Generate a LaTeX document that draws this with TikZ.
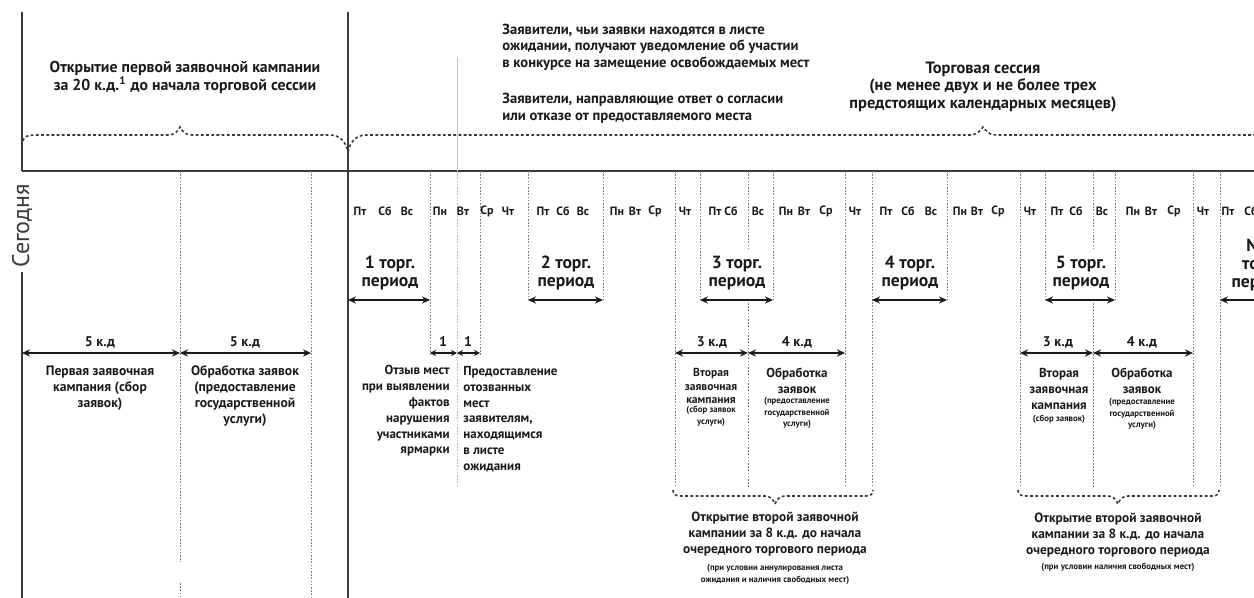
\documentclass[tikz,border=0pt]{standalone}
\usepackage{fontspec}
\setmainfont{PT Sans}
\usetikzlibrary{arrows.meta}
\definecolor{ink}{HTML}{1A1A1A}
\definecolor{lin}{HTML}{3A3A3A}
\definecolor{dotc}{HTML}{808080}
\begin{document}
\begin{tikzpicture}[x=0.5pt,y=-0.5pt,
  toptxt/.style={font=\bfseries\fontsize{7.9}{9}\selectfont, text=ink, align=center, inner sep=0pt},
  pertxt/.style={font=\bfseries\fontsize{8.8}{8.8}\selectfont, text=ink, align=center, inner sep=0pt},
  daytxt/.style={font=\bfseries\fontsize{6}{6}\selectfont, text=ink, inner sep=0pt},
  kdtxt/.style={font=\bfseries\fontsize{7}{7}\selectfont, text=ink, inner sep=0pt},
  lowtxt/.style={font=\bfseries\fontsize{6.5}{7.9}\selectfont, text=ink, align=center, inner sep=0pt},
  tinytxt/.style={font=\bfseries\fontsize{4.4}{5.9}\selectfont, text=ink, align=center, inner sep=0pt},
  brtxt/.style={font=\bfseries\fontsize{6.7}{8.1}\selectfont, text=ink, align=center, inner sep=0pt},
  axisline/.style={draw=lin, line width=0.8pt},
  dotv/.style={draw=dotc, line width=0.5pt, dash pattern=on 0.8pt off 0.8pt},
  faint/.style={draw=gray!45, line width=0.4pt},
  darr/.style={draw=ink, line width=0.9pt, {Stealth[length=4pt,width=3.6pt]}-{Stealth[length=4pt,width=3.6pt]}},
  sarr/.style={draw=ink, line width=0.8pt, {Stealth[length=3pt,width=3pt]}-{Stealth[length=3pt,width=3pt]}},
  larr/.style={draw=ink, line width=0.9pt, {Stealth[length=4pt,width=3.6pt]}-},
  brc/.style={draw=lin, line width=0.8pt, dash pattern=on 1.4pt off 1.2pt}
]
\useasboundingbox (0,0) rectangle (1254,598);
\clip (0,0) rectangle (1254,598);

% main solid lines
\coordinate (L0) at (22,12);
\coordinate (axL) at (22,171);
\coordinate (axR) at (1254,171);
\coordinate (Lbot) at (22,598);
\coordinate (M0) at (348,12);
\coordinate (Mbot) at (348,598);
\node[font=\fontsize{12}{12}\selectfont, rotate=90, text=lin, inner sep=2pt] (today) at (22,226) {Сегодня};
\draw[axisline] (L0) -- (axL);
\draw[axisline] (today.west) -- (Lbot);
\draw[axisline] (axL) -- (axR);
\draw[axisline] (M0) -- (Mbot);

% faint line
\draw[faint] (457,57) -- (457,171);
\draw[dotv, draw=gray!60] (457,171) -- (457,487);

% dotted verticals
\foreach \x/\a/\b in {180/171/562, 180/583/598, 311/171/598, 430/171/355, 480/171/355,
  528/171/300, 603/171/300, 675/171/487, 700/171/300, 748/171/250, 748/303/487,
  773/171/300, 845/171/487, 872/171/487, 947/171/300, 1020/171/487, 1045/171/300,
  1093/171/250, 1093/303/487, 1115/171/300, 1193/171/487, 1220/171/487}
  \draw[dotv] (\x,\a) -- (\x,\b);

% top braces
\draw[brc] (22,146) .. controls (22,138) and (25,135) .. (35,135) -- (168,135)
  .. controls (175,135) and (178,131) .. (180,127) .. controls (182,131) and (185,135) .. (192,135)
  -- (330,135) .. controls (340,135) and (346,142) .. (348,152);
\draw[brc] (348,152) .. controls (350,142) and (356,135) .. (366,135) -- (970,135)
  .. controls (977,135) and (980,131) .. (983,127) .. controls (986,131) and (989,135) .. (996,135)
  -- (1254,135);

% bottom braces
\draw[brc] (673,490) .. controls (673,494) and (675,496) .. (681,496) -- (765,496)
  .. controls (770,496) and (773,499) .. (775,504) .. controls (777,499) and (780,496) .. (785,496)
  -- (866,496) .. controls (871,496) and (873,494) .. (873,490);
\draw[brc] (1018,490) .. controls (1018,494) and (1020,496) .. (1026,496) -- (1108,496)
  .. controls (1113,496) and (1116,499) .. (1118,504) .. controls (1120,499) and (1123,496) .. (1128,496)
  -- (1212,496) .. controls (1217,496) and (1219,494) .. (1219,490);

% top texts
\node[toptxt] (t1) at (185,77) {Открытие первой заявочной кампании\\за 20 к.д.\textsuperscript{1} до начала торговой сессии};
\node[toptxt, font=\bfseries\fontsize{7.3}{8.3}\selectfont, align=left, anchor=west] (t2) at (502,47) {Заявители, чьи заявки находятся в листе\\ожидании, получают уведомление об участии\\в конкурсе на замещение освобождаемых мест};
\node[toptxt, font=\bfseries\fontsize{7.3}{8.3}\selectfont, align=left, anchor=west] (t3) at (502,108) {Заявители, направляющие ответ о согласии\\или отказе от предоставляемого места};
\node[toptxt, font=\bfseries\fontsize{8.2}{8.8}\selectfont] (t4) at (983,87) {Торговая сессия\\(не менее двух и не более трех\\предстоящих календарных месяцев)};

% day labels
\foreach \x/\d in {360/Пт, 385/Сб, 407/Вс, 440/Пн, 463/Вт, 487/Ср, 508/Чт,
  543/Пт, 563/Сб, 583/Вс, 617/Пн, 635/Вт, 655/Ср, 685/Чт, 715/Пт, 731/Сб, 758/Вс,
  786/Пн, 804/Вт, 826/Ср, 855/Чт, 886/Пт, 908/Сб, 931/Вс, 960/Пн, 977/Вт, 998/Ср,
  1030/Чт, 1057/Пт, 1076/Сб, 1102/Вс, 1133/Пн, 1151/Вт, 1174/Ср, 1203/Чт, 1228/Пт, 1251/Сб}
  \node[daytxt] (day\x) at (\x,211) {\d};

% trading periods
\node[pertxt] (per1) at (390,273) {1 торг.\\период};
\node[pertxt] (per2) at (566,273) {2 торг.\\период};
\node[pertxt] (per3) at (737,273) {3 торг.\\период};
\node[pertxt] (per4) at (910,273) {4 торг.\\период};
\node[pertxt] (per5) at (1081,273) {5 торг.\\период};
\node[pertxt] (perN) at (1260,265) {N-й\\торг.\\период};
\coordinate (pa1) at (348,300); \coordinate (pb1) at (430,300);
\coordinate (pa2) at (528,300); \coordinate (pb2) at (603,300);
\coordinate (pa3) at (700,300); \coordinate (pb3) at (773,300);
\coordinate (pa4) at (872,300); \coordinate (pb4) at (947,300);
\coordinate (pa5) at (1045,300); \coordinate (pb5) at (1115,300);
\coordinate (paN) at (1220,300); \coordinate (pbN) at (1270,300);
\draw[darr] (pa1) -- (pb1);
\draw[darr] (pa2) -- (pb2);
\draw[darr] (pa3) -- (pb3);
\draw[darr] (pa4) -- (pb4);
\draw[darr] (pa5) -- (pb5);
\draw[larr] (paN) -- (pbN);

% durations
\node[kdtxt] (k1) at (100,342) {5 к.д};
\node[kdtxt] (k2) at (245,342) {5 к.д};
\node[kdtxt] (o1) at (443,342) {1};
\node[kdtxt] (o2) at (468,342) {1};
\node[kdtxt] (k3) at (712,342) {3 к.д};
\node[kdtxt] (k4) at (797,342) {4 к.д};
\node[kdtxt] (k5) at (1058,342) {3 к.д};
\node[kdtxt] (k6) at (1142,342) {4 к.д};
\coordinate (q1) at (22,353); \coordinate (q2) at (180,353); \coordinate (q3) at (311,353);
\coordinate (q4) at (430,353); \coordinate (q5) at (457,353); \coordinate (q6) at (480,353);
\coordinate (q7) at (675,353); \coordinate (q8) at (748,353); \coordinate (q9) at (845,353);
\coordinate (q10) at (1020,353); \coordinate (q11) at (1093,353); \coordinate (q12) at (1193,353);
\draw[darr] (q1) -- (q2);
\draw[darr] (q2) -- (q3);
\draw[sarr] (q4) -- (q5);
\draw[sarr] (q5) -- (q6);
\draw[darr] (q7) -- (q8);
\draw[darr] (q8) -- (q9);
\draw[darr] (q10) -- (q11);
\draw[darr] (q11) -- (q12);

% lower texts
\node[lowtxt, font=\bfseries\fontsize{6.8}{7.9}\selectfont] (l1) at (100,388) {Первая заявочная\\кампания (сбор\\заявок)};
\node[lowtxt, font=\bfseries\fontsize{6.8}{7.9}\selectfont] (l2) at (245,396) {Обработка заявок\\(предоставление\\государственной\\услуги)};
\node[lowtxt, align=right, anchor=east] (m1) at (450,411) {Отзыв мест\\при выявлении\\фактов\\нарушения\\участниками\\ярмарки};
\node[lowtxt, align=left, anchor=west] (m2) at (463,419) {Предоставление\\отозванных\\мест\\заявителям,\\находящимся\\в листе\\ожидания};

\node[lowtxt, font=\bfseries\fontsize{5.8}{6.6}\selectfont] (g1a) at (711,386) {Вторая\\заявочная\\кампания};
\node[tinytxt] (g1as) at (711,416) {(сбор заявок\\услуги)};
\node[lowtxt] (g1b) at (797,381) {Обработка\\заявок};
\node[tinytxt] (g1bs) at (797,413) {(предоставление\\государственной\\услуги)};

\node[lowtxt] (g2a) at (1059,389) {Вторая\\заявочная\\кампания};
\node[tinytxt] (g2as) at (1059,419) {(сбор заявок)};
\node[lowtxt] (g2b) at (1142,381) {Обработка\\заявок};
\node[tinytxt] (g2bs) at (1142,414) {(предоставление\\государственной\\услуги)};

% bottom texts
\node[brtxt] (b1) at (775,534) {Открытие второй заявочной\\кампании за 8 к.д. до начала\\очередного торгового периода};
\node[tinytxt] (b1s) at (775,574) {(при условии аннулирования листа\\ожидания и наличия свободных мест)};
\node[brtxt] (b2) at (1118,535) {Открытие второй заявочной\\кампании за 8 к.д. до начала\\очередного торгового периода};
\node[tinytxt] (b2s) at (1118,567) {(при условии наличия свободных мест)};
\end{tikzpicture}
\end{document}
